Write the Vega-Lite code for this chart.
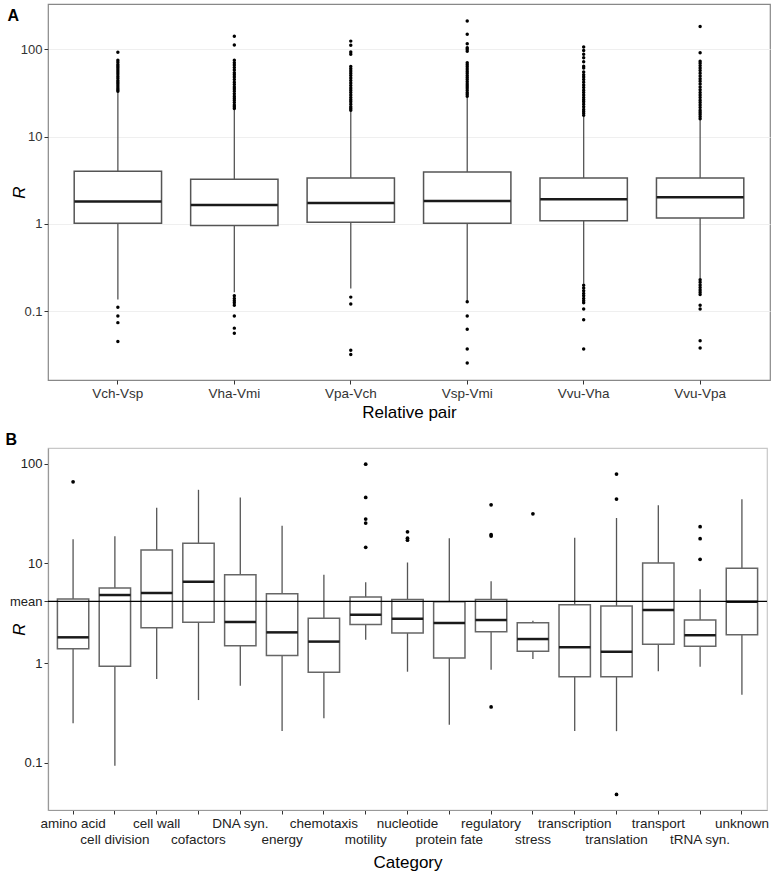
{
  "$schema": "https://vega.github.io/schema/vega-lite/v6.json",
  "padding": {"left": 4, "top": 3, "right": 4, "bottom": 0},
  "background": "white",
  "spacing": 8,
  "config": {
    "font": "Liberation Sans",
    "axis": {"labelFont": "Liberation Sans", "labelFontSize": 13, "labelColor": "#333", "titleFont": "Liberation Sans", "titleFontSize": 17, "titleFontWeight": "normal", "titleColor": "#000", "tickColor": "#333", "tickSize": 4, "domain": false, "grid": false, "labelPadding": 2}
  },
  "datasets": {
    "statsA": [
      {"pair": "Vch-Vsp", "lo": 0.136, "q1": 1.02, "med": 1.81, "q3": 4.02, "hi": 33},
      {"pair": "Vha-Vmi", "lo": 0.165, "q1": 0.96, "med": 1.65, "q3": 3.25, "hi": 21},
      {"pair": "Vpa-Vch", "lo": 0.182, "q1": 1.045, "med": 1.73, "q3": 3.36, "hi": 20.2},
      {"pair": "Vsp-Vmi", "lo": 0.13, "q1": 1.02, "med": 1.83, "q3": 3.94, "hi": 29},
      {"pair": "Vvu-Vha", "lo": 0.206, "q1": 1.09, "med": 1.92, "q3": 3.36, "hi": 17.1},
      {"pair": "Vvu-Vpa", "lo": 0.237, "q1": 1.17, "med": 2.02, "q3": 3.36, "hi": 15.7}
    ],
    "outA": [
      {"pair": "Vch-Vsp", "R": 33}, {"pair": "Vch-Vsp", "R": 34.5}, {"pair": "Vch-Vsp", "R": 36}, {"pair": "Vch-Vsp", "R": 38}, {"pair": "Vch-Vsp", "R": 40}, {"pair": "Vch-Vsp", "R": 42}, {"pair": "Vch-Vsp", "R": 44}, {"pair": "Vch-Vsp", "R": 46.5}, {"pair": "Vch-Vsp", "R": 49}, {"pair": "Vch-Vsp", "R": 52}, {"pair": "Vch-Vsp", "R": 55}, {"pair": "Vch-Vsp", "R": 58}, {"pair": "Vch-Vsp", "R": 61}, {"pair": "Vch-Vsp", "R": 64}, {"pair": "Vch-Vsp", "R": 67}, {"pair": "Vch-Vsp", "R": 71}, {"pair": "Vch-Vsp", "R": 75}, {"pair": "Vch-Vsp", "R": 92.7},
      {"pair": "Vch-Vsp", "R": 0.111}, {"pair": "Vch-Vsp", "R": 0.088}, {"pair": "Vch-Vsp", "R": 0.074}, {"pair": "Vch-Vsp", "R": 0.045},
      {"pair": "Vha-Vmi", "R": 21}, {"pair": "Vha-Vmi", "R": 22}, {"pair": "Vha-Vmi", "R": 23}, {"pair": "Vha-Vmi", "R": 24.5}, {"pair": "Vha-Vmi", "R": 26}, {"pair": "Vha-Vmi", "R": 27.5}, {"pair": "Vha-Vmi", "R": 29}, {"pair": "Vha-Vmi", "R": 31}, {"pair": "Vha-Vmi", "R": 33}, {"pair": "Vha-Vmi", "R": 35}, {"pair": "Vha-Vmi", "R": 37}, {"pair": "Vha-Vmi", "R": 39.5}, {"pair": "Vha-Vmi", "R": 42}, {"pair": "Vha-Vmi", "R": 45}, {"pair": "Vha-Vmi", "R": 48}, {"pair": "Vha-Vmi", "R": 51}, {"pair": "Vha-Vmi", "R": 54}, {"pair": "Vha-Vmi", "R": 58}, {"pair": "Vha-Vmi", "R": 62}, {"pair": "Vha-Vmi", "R": 66}, {"pair": "Vha-Vmi", "R": 70}, {"pair": "Vha-Vmi", "R": 75}, {"pair": "Vha-Vmi", "R": 112}, {"pair": "Vha-Vmi", "R": 141},
      {"pair": "Vha-Vmi", "R": 0.15}, {"pair": "Vha-Vmi", "R": 0.14}, {"pair": "Vha-Vmi", "R": 0.132}, {"pair": "Vha-Vmi", "R": 0.125}, {"pair": "Vha-Vmi", "R": 0.117}, {"pair": "Vha-Vmi", "R": 0.088}, {"pair": "Vha-Vmi", "R": 0.064}, {"pair": "Vha-Vmi", "R": 0.056},
      {"pair": "Vpa-Vch", "R": 20}, {"pair": "Vpa-Vch", "R": 21}, {"pair": "Vpa-Vch", "R": 22}, {"pair": "Vpa-Vch", "R": 23.5}, {"pair": "Vpa-Vch", "R": 25}, {"pair": "Vpa-Vch", "R": 26.5}, {"pair": "Vpa-Vch", "R": 28}, {"pair": "Vpa-Vch", "R": 30}, {"pair": "Vpa-Vch", "R": 32}, {"pair": "Vpa-Vch", "R": 34}, {"pair": "Vpa-Vch", "R": 36}, {"pair": "Vpa-Vch", "R": 38.5}, {"pair": "Vpa-Vch", "R": 41}, {"pair": "Vpa-Vch", "R": 44}, {"pair": "Vpa-Vch", "R": 47}, {"pair": "Vpa-Vch", "R": 50}, {"pair": "Vpa-Vch", "R": 53}, {"pair": "Vpa-Vch", "R": 56.5}, {"pair": "Vpa-Vch", "R": 60}, {"pair": "Vpa-Vch", "R": 63.4}, {"pair": "Vpa-Vch", "R": 87.5}, {"pair": "Vpa-Vch", "R": 93}, {"pair": "Vpa-Vch", "R": 111}, {"pair": "Vpa-Vch", "R": 124},
      {"pair": "Vpa-Vch", "R": 0.145}, {"pair": "Vpa-Vch", "R": 0.121}, {"pair": "Vpa-Vch", "R": 0.0357}, {"pair": "Vpa-Vch", "R": 0.032},
      {"pair": "Vsp-Vmi", "R": 29}, {"pair": "Vsp-Vmi", "R": 30.5}, {"pair": "Vsp-Vmi", "R": 32}, {"pair": "Vsp-Vmi", "R": 34}, {"pair": "Vsp-Vmi", "R": 36}, {"pair": "Vsp-Vmi", "R": 38}, {"pair": "Vsp-Vmi", "R": 40}, {"pair": "Vsp-Vmi", "R": 42.5}, {"pair": "Vsp-Vmi", "R": 45}, {"pair": "Vsp-Vmi", "R": 47.5}, {"pair": "Vsp-Vmi", "R": 50}, {"pair": "Vsp-Vmi", "R": 53}, {"pair": "Vsp-Vmi", "R": 56}, {"pair": "Vsp-Vmi", "R": 59.5}, {"pair": "Vsp-Vmi", "R": 63}, {"pair": "Vsp-Vmi", "R": 66.5}, {"pair": "Vsp-Vmi", "R": 70}, {"pair": "Vsp-Vmi", "R": 95}, {"pair": "Vsp-Vmi", "R": 100}, {"pair": "Vsp-Vmi", "R": 104}, {"pair": "Vsp-Vmi", "R": 116}, {"pair": "Vsp-Vmi", "R": 149}, {"pair": "Vsp-Vmi", "R": 211},
      {"pair": "Vsp-Vmi", "R": 0.128}, {"pair": "Vsp-Vmi", "R": 0.088}, {"pair": "Vsp-Vmi", "R": 0.062}, {"pair": "Vsp-Vmi", "R": 0.037}, {"pair": "Vsp-Vmi", "R": 0.0255},
      {"pair": "Vvu-Vha", "R": 17.5}, {"pair": "Vvu-Vha", "R": 18.5}, {"pair": "Vvu-Vha", "R": 19.5}, {"pair": "Vvu-Vha", "R": 20.5}, {"pair": "Vvu-Vha", "R": 22}, {"pair": "Vvu-Vha", "R": 23.5}, {"pair": "Vvu-Vha", "R": 25}, {"pair": "Vvu-Vha", "R": 26.5}, {"pair": "Vvu-Vha", "R": 28}, {"pair": "Vvu-Vha", "R": 30}, {"pair": "Vvu-Vha", "R": 32}, {"pair": "Vvu-Vha", "R": 34}, {"pair": "Vvu-Vha", "R": 36.5}, {"pair": "Vvu-Vha", "R": 39}, {"pair": "Vvu-Vha", "R": 42}, {"pair": "Vvu-Vha", "R": 45}, {"pair": "Vvu-Vha", "R": 48}, {"pair": "Vvu-Vha", "R": 51}, {"pair": "Vvu-Vha", "R": 55}, {"pair": "Vvu-Vha", "R": 61}, {"pair": "Vvu-Vha", "R": 64}, {"pair": "Vvu-Vha", "R": 72}, {"pair": "Vvu-Vha", "R": 80}, {"pair": "Vvu-Vha", "R": 87.5}, {"pair": "Vvu-Vha", "R": 97}, {"pair": "Vvu-Vha", "R": 106},
      {"pair": "Vvu-Vha", "R": 0.198}, {"pair": "Vvu-Vha", "R": 0.185}, {"pair": "Vvu-Vha", "R": 0.172}, {"pair": "Vvu-Vha", "R": 0.16}, {"pair": "Vvu-Vha", "R": 0.15}, {"pair": "Vvu-Vha", "R": 0.14}, {"pair": "Vvu-Vha", "R": 0.132}, {"pair": "Vvu-Vha", "R": 0.125}, {"pair": "Vvu-Vha", "R": 0.106}, {"pair": "Vvu-Vha", "R": 0.08}, {"pair": "Vvu-Vha", "R": 0.037},
      {"pair": "Vvu-Vpa", "R": 16}, {"pair": "Vvu-Vpa", "R": 17}, {"pair": "Vvu-Vpa", "R": 18}, {"pair": "Vvu-Vpa", "R": 19}, {"pair": "Vvu-Vpa", "R": 20}, {"pair": "Vvu-Vpa", "R": 21.5}, {"pair": "Vvu-Vpa", "R": 23}, {"pair": "Vvu-Vpa", "R": 24.5}, {"pair": "Vvu-Vpa", "R": 26}, {"pair": "Vvu-Vpa", "R": 28}, {"pair": "Vvu-Vpa", "R": 30}, {"pair": "Vvu-Vpa", "R": 32}, {"pair": "Vvu-Vpa", "R": 34.5}, {"pair": "Vvu-Vpa", "R": 37}, {"pair": "Vvu-Vpa", "R": 40}, {"pair": "Vvu-Vpa", "R": 43}, {"pair": "Vvu-Vpa", "R": 46}, {"pair": "Vvu-Vpa", "R": 49.5}, {"pair": "Vvu-Vpa", "R": 53}, {"pair": "Vvu-Vpa", "R": 57}, {"pair": "Vvu-Vpa", "R": 61}, {"pair": "Vvu-Vpa", "R": 65}, {"pair": "Vvu-Vpa", "R": 69}, {"pair": "Vvu-Vpa", "R": 73}, {"pair": "Vvu-Vpa", "R": 91}, {"pair": "Vvu-Vpa", "R": 182},
      {"pair": "Vvu-Vpa", "R": 0.23}, {"pair": "Vvu-Vpa", "R": 0.215}, {"pair": "Vvu-Vpa", "R": 0.2}, {"pair": "Vvu-Vpa", "R": 0.187}, {"pair": "Vvu-Vpa", "R": 0.175}, {"pair": "Vvu-Vpa", "R": 0.165}, {"pair": "Vvu-Vpa", "R": 0.155}, {"pair": "Vvu-Vpa", "R": 0.117}, {"pair": "Vvu-Vpa", "R": 0.106}, {"pair": "Vvu-Vpa", "R": 0.046}, {"pair": "Vvu-Vpa", "R": 0.0378}
    ],
    "statsB": [
      {"cat": "amino acid", "lo": 0.248, "q1": 1.39, "med": 1.81, "q3": 4.38, "hi": 17.5},
      {"cat": "cell division", "lo": 0.093, "q1": 0.927, "med": 4.81, "q3": 5.65, "hi": 18.7},
      {"cat": "cell wall", "lo": 0.69, "q1": 2.26, "med": 5.04, "q3": 13.6, "hi": 36.1},
      {"cat": "cofactors", "lo": 0.425, "q1": 2.56, "med": 6.54, "q3": 15.9, "hi": 54.7},
      {"cat": "DNA syn.", "lo": 0.593, "q1": 1.49, "med": 2.58, "q3": 7.69, "hi": 45.9},
      {"cat": "energy", "lo": 0.208, "q1": 1.19, "med": 2.03, "q3": 4.96, "hi": 23.8},
      {"cat": "chemotaxis", "lo": 0.279, "q1": 0.81, "med": 1.64, "q3": 2.81, "hi": 7.69},
      {"cat": "motility", "lo": 1.71, "q1": 2.44, "med": 3.05, "q3": 4.59, "hi": 6.45},
      {"cat": "nucleotide", "lo": 0.818, "q1": 2.0, "med": 2.78, "q3": 4.35, "hi": 10.2},
      {"cat": "protein fate", "lo": 0.24, "q1": 1.12, "med": 2.52, "q3": 4.12, "hi": 17.9},
      {"cat": "regulatory", "lo": 0.857, "q1": 2.06, "med": 2.7, "q3": 4.35, "hi": 6.6},
      {"cat": "stress", "lo": 1.1, "q1": 1.31, "med": 1.74, "q3": 2.54, "hi": 2.66},
      {"cat": "transcription", "lo": 0.208, "q1": 0.729, "med": 1.44, "q3": 3.84, "hi": 18.1},
      {"cat": "translation", "lo": 0.207, "q1": 0.729, "med": 1.3, "q3": 3.73, "hi": 28.5},
      {"cat": "transport", "lo": 0.826, "q1": 1.54, "med": 3.4, "q3": 10.07, "hi": 38.2},
      {"cat": "tRNA syn.", "lo": 0.918, "q1": 1.47, "med": 1.9, "q3": 2.7, "hi": 5.49},
      {"cat": "unknown", "lo": 0.481, "q1": 1.92, "med": 4.12, "q3": 8.91, "hi": 43.9}
    ],
    "outB": [
      {"cat": "amino acid", "R": 65.8},
      {"cat": "motility", "R": 99}, {"cat": "motility", "R": 45.9}, {"cat": "motility", "R": 27.8}, {"cat": "motility", "R": 25.4}, {"cat": "motility", "R": 14.5},
      {"cat": "nucleotide", "R": 20.7}, {"cat": "nucleotide", "R": 17.9}, {"cat": "nucleotide", "R": 17.1},
      {"cat": "regulatory", "R": 38.7}, {"cat": "regulatory", "R": 19.4}, {"cat": "regulatory", "R": 18.8}, {"cat": "regulatory", "R": 0.362},
      {"cat": "stress", "R": 31.4},
      {"cat": "translation", "R": 78.7}, {"cat": "translation", "R": 44.2}, {"cat": "translation", "R": 0.048},
      {"cat": "tRNA syn.", "R": 23.3}, {"cat": "tRNA syn.", "R": 17.7}, {"cat": "tRNA syn.", "R": 10.97}
    ]
  },
  "vconcat": [
    {
      "width": 722,
      "height": 376,
      "view": {"stroke": "#888", "strokeWidth": 1.2},
      "resolve": {"axis": {"x": "independent"}},
      "layer": [
        {
          "data": {"name": "statsA"},
          "mark": {"type": "rule", "color": "#555", "strokeWidth": 1.3},
          "encoding": {
            "x": {"field": "pair", "type": "nominal", "scale": {"type": "band", "domain": ["Vch-Vsp", "Vha-Vmi", "Vpa-Vch", "Vsp-Vmi", "Vvu-Vha", "Vvu-Vpa"], "paddingInner": 0.25, "paddingOuter": 0.225}, "axis": {"title": "Relative pair", "labelAngle": 0, "labelFontSize": 13.5, "titlePadding": 5, "labelOverlap": false}},
            "y": {"field": "lo", "type": "quantitative", "scale": {"type": "log", "domain": [0.0163, 330], "nice": false}, "axis": {"title": "R", "titleFontStyle": "italic", "values": [0.1, 1, 10, 100], "format": "~g", "grid": true, "gridColor": "#efefef", "titleX": -20}},
            "y2": {"field": "hi"}
          }
        },
        {
          "data": {"name": "statsA"},
          "mark": {"type": "bar", "fill": "white", "stroke": "#555", "strokeWidth": 1.5},
          "encoding": {"x": {"field": "pair", "type": "nominal", "axis": null}, "y": {"field": "q1", "type": "quantitative"}, "y2": {"field": "q3"}}
        },
        {
          "data": {"name": "statsA"},
          "mark": {"type": "tick", "color": "#1a1a1a", "opacity": 1, "thickness": 2.5, "size": 87},
          "encoding": {"x": {"field": "pair", "type": "nominal", "axis": null}, "y": {"field": "med", "type": "quantitative"}}
        },
        {
          "data": {"name": "outA"},
          "mark": {"type": "point", "filled": true, "color": "#000", "opacity": 1, "size": 12},
          "encoding": {
            "x": {"field": "pair", "type": "nominal", "axis": {"orient": "top", "title": "A", "labels": false, "ticks": false, "domain": false, "grid": false, "titleX": -41, "titleY": 16, "titleAngle": 0, "titleAlign": "left", "titleBaseline": "alphabetic", "titleFontWeight": "bold", "titleFontSize": 16}},
            "y": {"field": "R", "type": "quantitative"}
          }
        }
      ]
    },
    {
      "width": 719,
      "height": 362,
      "view": {"stroke": "#c8c8c8", "strokeWidth": 1.2},
      "resolve": {"axis": {"x": "independent"}},
      "layer": [
        {
          "data": {"name": "statsB"},
          "mark": {"type": "rule", "color": "#555", "strokeWidth": 1.3},
          "encoding": {
            "x": {"field": "cat", "type": "nominal", "scale": {"type": "band", "domain": ["amino acid", "cell division", "cell wall", "cofactors", "DNA syn.", "energy", "chemotaxis", "motility", "nucleotide", "protein fate", "regulatory", "stress", "transcription", "translation", "transport", "tRNA syn.", "unknown"], "paddingInner": 0.25, "paddingOuter": 0.225}, "axis": {"title": "Category", "labelAngle": 0, "labelFontSize": 13.5, "labelColor": "#222", "labelOverlap": false, "labelBound": false, "labelLineHeight": 16, "labelBaseline": "top", "titlePadding": 9, "domain": true, "domainColor": "#999", "domainWidth": 1.2, "labelExpr": "indexof(['amino acid','cell division','cell wall','cofactors','DNA syn.','energy','chemotaxis','motility','nucleotide','protein fate','regulatory','stress','transcription','translation','transport','tRNA syn.','unknown'], datum.value) % 2 == 1 ? ['', datum.label] : datum.label"}},
            "y": {"field": "lo", "type": "quantitative", "scale": {"type": "log", "domain": [0.0335, 143.7], "nice": false}, "axis": {"title": "R", "titleFontStyle": "italic", "values": [0.1, 1, 4.16, 10, 100], "labelExpr": "datum.value > 4 && datum.value < 4.5 ? 'mean' : format(datum.value, '~g')", "labelColor": "#222", "domain": true, "domainColor": "#999", "domainWidth": 1.2, "titleX": -20}},
            "y2": {"field": "hi"}
          }
        },
        {
          "data": {"name": "statsB"},
          "mark": {"type": "bar", "fill": "white", "stroke": "#666", "strokeWidth": 1.5},
          "encoding": {"x": {"field": "cat", "type": "nominal", "axis": null}, "y": {"field": "q1", "type": "quantitative"}, "y2": {"field": "q3"}}
        },
        {
          "data": {"name": "statsB"},
          "mark": {"type": "tick", "color": "#1a1a1a", "opacity": 1, "thickness": 2.5, "size": 31.4},
          "encoding": {"x": {"field": "cat", "type": "nominal", "axis": null}, "y": {"field": "med", "type": "quantitative"}}
        },
        {
          "data": {"values": [{"m": 4.16}]},
          "mark": {"type": "rule", "color": "#000", "strokeWidth": 1.2},
          "encoding": {"y": {"field": "m", "type": "quantitative"}}
        },
        {
          "data": {"name": "outB"},
          "mark": {"type": "point", "filled": true, "color": "#000", "opacity": 1, "size": 14},
          "encoding": {
            "x": {"field": "cat", "type": "nominal", "axis": {"orient": "top", "title": "B", "labels": false, "ticks": false, "domain": false, "grid": false, "titleX": -43, "titleY": -4, "titleAngle": 0, "titleAlign": "left", "titleBaseline": "alphabetic", "titleFontWeight": "bold", "titleFontSize": 16}},
            "y": {"field": "R", "type": "quantitative"}
          }
        }
      ]
    }
  ]
}
